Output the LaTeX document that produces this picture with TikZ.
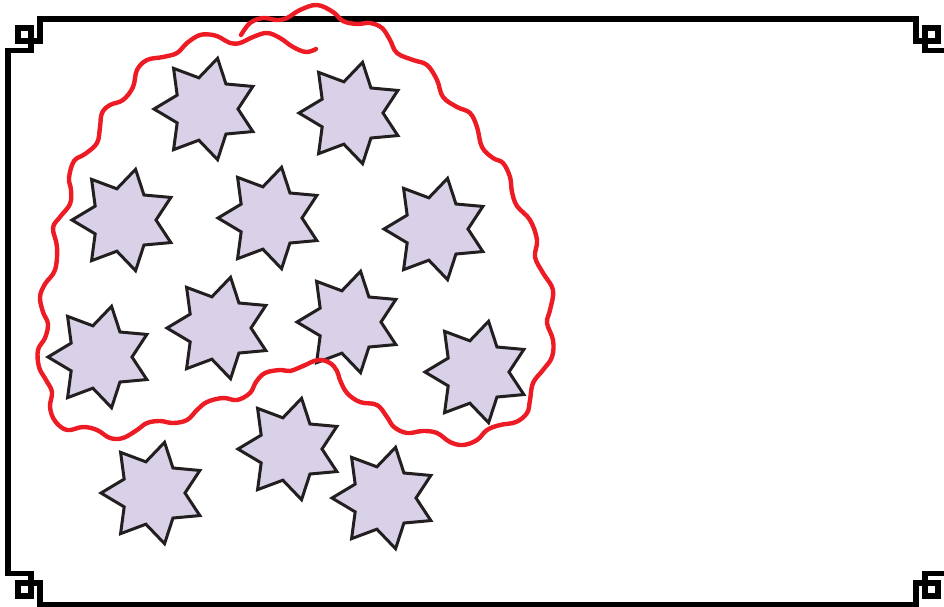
\documentclass[tikz,border=0pt]{standalone}
\definecolor{starfill}{HTML}{D8D1E7}
\definecolor{starline}{HTML}{231F20}
\definecolor{wavered}{HTML}{ED1C24}
\tikzset{
  framestyle/.style={draw=black, line width=5.2pt, line join=miter},
  starshape/.style={draw=starline, fill=starfill, line width=3pt, line join=miter},
  wavestyle/.style={draw=wavered, line width=4.4pt, line cap=round, line join=round},
  pics/sevenstar/.style={code={
    \path[starshape] (180:52) \foreach \k in {0,...,6}{ -- ({180+\k*360/7+180/7}:32) -- ({180+(\k+1)*360/7}:52) } -- cycle;
  }}
}
\begin{document}
\begin{tikzpicture}[x=1pt,y=-1pt]
\useasboundingbox (0,0) rectangle (944,606);
\begin{scope}
\clip (0,0) rectangle (944,606);
% frame with fret corners
\path[framestyle]
  (8,50.5) -- (31,50.5) -- (31,28) -- (18,28) -- (18,41) -- (40,41) -- (40,19)
  -- (916,19) -- (916,41) -- (938,41) -- (938,28) -- (925,28) -- (925,50.5) -- (948,50.5)
  -- (948,573.5) -- (925,573.5) -- (925,596) -- (938,596) -- (938,583) -- (916,583) -- (916,605)
  -- (40,605) -- (40,583) -- (18,583) -- (18,596) -- (31,596) -- (31,573.5) -- (8,573.5) -- cycle;
\end{scope}
% stars
\foreach \sx/\sy in {206/109, 351/113, 124/220, 270/218, 436/229, 100/357, 219/328, 349/322, 477/372, 153/493, 290/449, 384/498}
  \pic at (\sx,\sy) {sevenstar};
% red wavy outline
\draw[wavestyle] plot[smooth, tension=0.62] coordinates {
 (241,35) (250,23) (263,18) (277,20) (287,18) (300,10) (317,5) (333,12) (343,21) (357,24) (370,23) (382,28)
 (390,40) (397,53) (413,60) (427,65) (437,80) (443,97) (457,107) (470,113) (477,127) (482,147) (493,158)
 (503,163) (510,177) (512,192) (517,206) (530,220) (537,240) (535,257) (543,273) (553,290) (550,310)
 (547,323) (553,340) (552,357) (543,370) (533,383) (530,400) (527,413) (516,422) (500,425) (487,430)
 (477,440) (463,445) (450,442) (437,433) (423,431) (407,433) (394,427) (387,417) (377,405) (360,402)
 (347,393) (340,380) (337,371) (330,363) (318,360) (303,366) (290,371) (280,370) (265,373) (256,382)
 (250,393) (237,400) (223,398) (207,402) (197,410) (187,420) (173,423) (160,421) (147,423) (137,430)
 (123,438) (110,438) (97,430) (83,427) (67,430) (55,421) (50,407) (52,392) (46,380) (39,367) (38,350)
 (45,338) (48,324) (43,312) (40,297) (45,284) (55,270) (57,247) (53,228) (60,217) (70,204) (71,190)
 (69,178) (74,161) (85,154) (97,143) (100,127) (102,113) (110,105) (123,100) (133,87) (137,70) (147,60)
 (163,57) (177,53) (187,43) (200,35) (213,35) (221,38) (230,43) (240,43) (253,37) (267,33) (280,38)
 (293,47) (306,52) (316,49)
};
\end{tikzpicture}
\end{document}
